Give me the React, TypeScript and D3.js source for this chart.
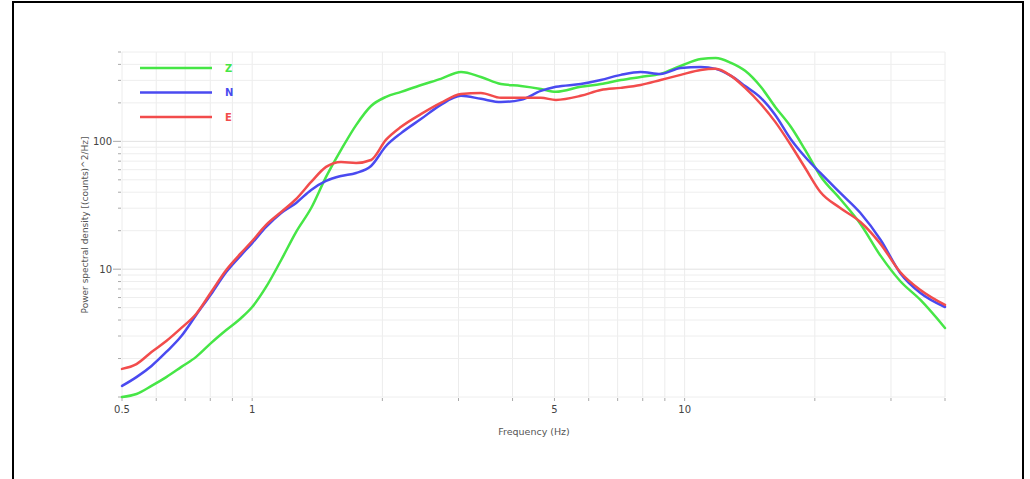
import React from 'react';
import * as d3 from 'd3';

// frequency grid (Hz) shared by the three components
const freqs = [0.5, 0.54, 0.585, 0.633, 0.686, 0.742, 0.804, 0.871, 0.943, 1, 1.077, 1.167, 1.264, 1.369, 1.482, 1.605, 1.739, 1.883, 2.04, 2.21, 2.46, 2.73, 3.04, 3.38, 3.76, 4.18, 4.65, 5.04, 5.75, 6.4, 7.12, 7.91, 8.8, 9.79, 10.9, 11.8, 12.8, 13.8, 15, 16.2, 17.6, 19, 20.6, 22.9, 25.5, 28.4, 31.5, 35.1, 40];

const psdZ = [1.0, 1.055, 1.22, 1.43, 1.72, 2.06, 2.65, 3.34, 4.15, 5.06, 7.26, 11.8, 19.6, 30.1, 52.7, 85.7, 134, 189, 223, 244, 276, 308, 349, 319, 281, 271, 257, 244, 267, 281, 302, 319, 337, 389, 441, 449, 411, 356, 267, 186, 130, 85.7, 53.6, 35.4, 22.6, 12.7, 8.08, 5.74, 3.47];
const psdN = [1.22, 1.43, 1.75, 2.25, 3.0, 4.38, 6.4, 9.51, 12.9, 16.0, 21.4, 27.5, 33.0, 41.7, 49.0, 53.6, 56.6, 64.2, 92.0, 116, 150, 193, 227, 215, 203, 211, 248, 267, 281, 302, 331, 349, 337, 375, 382, 369, 325, 271, 219, 161, 104, 75.5, 56.6, 39.5, 27.5, 16.9, 9.34, 6.51, 5.06];
const psdE = [1.66, 1.81, 2.25, 2.74, 3.47, 4.46, 6.63, 9.86, 13.4, 16.6, 22.2, 28.0, 35.4, 48.1, 63.1, 69.0, 67.8, 71.5, 103, 130, 164, 200, 235, 239, 219, 219, 219, 211, 227, 252, 262, 276, 302, 331, 362, 369, 325, 262, 196, 142, 93.7, 61.9, 40.2, 30.1, 23.4, 15.7, 9.51, 6.87, 5.25];

const seriesNames = ['Z', 'N', 'E'];
const seriesColors = ['#46e646', '#4a4af0', '#f24c4c'];
const seriesValues = [psdZ, psdN, psdE];

const xTickLabels = [0.5, 1, 5, 10];
const xMinor = [0.5, 0.6, 0.7, 0.8, 0.9, 1, 2, 3, 4, 5, 6, 7, 8, 9, 10, 20, 30, 40];
const yTickLabels = [10, 100];
const yMinor = [1, 2, 3, 4, 5, 6, 7, 8, 9, 10, 20, 30, 40, 50, 60, 70, 80, 90, 100, 200, 300, 400, 500];

const W = 1030;
const H = 479;
const FONT = '"DejaVu Sans", sans-serif';

export default function App() {
  const x = d3.scaleLog().domain([0.5, 40]).range([122, 945]);
  const y = d3.scaleLog().domain([1, 500]).range([397, 52]);

  const line = d3.line<[number, number]>()
    .x(d => x(d[0]))
    .y(d => y(d[1]))
    .curve(d3.curveMonotoneX);

  const isMajorY = (v: number) => yTickLabels.includes(v);

  return (
    <svg width={W} height={H} style={{ position: 'absolute', left: 0, top: 0, display: 'block', background: '#fff' }}>
      {/* frame */}
      <line x1={13} y1={2} x2={1023} y2={2} stroke="#000" strokeWidth={2} />
      <line x1={13} y1={1} x2={13} y2={H} stroke="#000" strokeWidth={2} />
      <line x1={1023} y1={1} x2={1023} y2={H} stroke="#000" strokeWidth={2} />

      {/* grid */}
      <g>
        {xMinor.map(f => (
          <line key={'gx' + f} x1={x(f)} x2={x(f)} y1={y(500)} y2={y(1)} stroke="#ececec" strokeWidth={1} />
        ))}
        {yMinor.map(v => (
          <line key={'gy' + v} x1={x(0.5)} x2={x(40)} y1={y(v)} y2={y(v)} stroke={isMajorY(v) ? '#e2e2e2' : '#eeeeee'} strokeWidth={1} />
        ))}
      </g>

      {/* y ticks */}
      <g>
        {yMinor.map(v => (
          <line key={'ty' + v} x1={x(0.5) - (isMajorY(v) ? 9 : 4)} x2={x(0.5) - 1} y1={y(v)} y2={y(v)} stroke="#aaa" strokeWidth={1} />
        ))}
        {yTickLabels.map(v => (
          <text key={'ly' + v} x={x(0.5) - 10} y={y(v)} dy="0.35em" textAnchor="end" fontSize={10} fontFamily={FONT} fill="#444">{v}</text>
        ))}
      </g>

      {/* x ticks */}
      <g>
        {xMinor.map(f => (
          <line key={'tx' + f} x1={x(f)} x2={x(f)} y1={y(1) + 1} y2={y(1) + 4} stroke="#aaa" strokeWidth={1} />
        ))}
        {xTickLabels.map(f => (
          <text key={'lx' + f} x={x(f)} y={y(1) + 16} textAnchor="middle" fontSize={10} fontFamily={FONT} fill="#444">{f}</text>
        ))}
      </g>

      {/* axis titles */}
      <text x={534} y={435} textAnchor="middle" fontSize={9.5} fontFamily={FONT} fill="#555">Frequency (Hz)</text>
      <text transform="translate(88,225) rotate(-90)" textAnchor="middle" fontSize={9} fontFamily={FONT} fill="#555">Power spectral density [(counts)^2/Hz]</text>

      {/* series */}
      <g>
        {seriesValues.map((vals, i) => (
          <path
            key={seriesNames[i]}
            d={line(freqs.map((f, j) => [f, vals[j]] as [number, number])) || ''}
            fill="none"
            stroke={seriesColors[i]}
            strokeWidth={2.5}
            strokeLinejoin="round"
            strokeLinecap="round"
          />
        ))}
      </g>

      {/* legend */}
      <g>
        {seriesNames.map((name, i) => (
          <g key={'lg' + name} transform={`translate(140,${68 + i * 24.5})`}>
            <line x1={0} x2={72} y1={0} y2={0} stroke={seriesColors[i]} strokeWidth={2.5} />
            <text x={85} y={0} dy="0.35em" fontSize={10} fontWeight="bold" fontFamily={FONT} fill={seriesColors[i]}>{name}</text>
          </g>
        ))}
      </g>
    </svg>
  );
}
